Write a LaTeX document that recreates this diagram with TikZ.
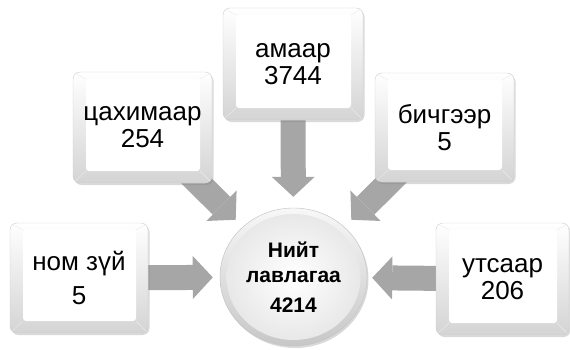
\documentclass[tikz,border=0pt]{standalone}
\usepackage{fontspec}
\setmainfont{Liberation Sans}
\usepackage{tikz}
\usetikzlibrary{arrows.meta, shapes.geometric, shadows, backgrounds}
\definecolor{arrowgray}{RGB}{166,166,166}
\definecolor{bevelgray}{RGB}{212,212,212}

\begin{document}
\begin{tikzpicture}[x=1pt, y=1pt,
	keybox/.style={rectangle, rounded corners=7pt, minimum width=139pt, minimum height=111pt,
		draw=black!20, fill=white, align=center, font=\fontsize{26}{27}\selectfont,
		drop shadow={shadow xshift=1.5pt, shadow yshift=-2pt, opacity=0.3},
		path picture={
			\path (path picture bounding box.south west) coordinate (sw)
				(path picture bounding box.north east) coordinate (ne);
			\shade[top color=white, bottom color=bevelgray] (sw) rectangle (ne);
			\draw[black!8] (sw) -- ++(13,12) (ne) -- ++(-12,-7) (sw |- ne) -- ++(13,-7) (ne |- sw) -- ++(-12,12);
			\fill[white, rounded corners=3pt] ([shift={(13,12)}]sw) rectangle ([shift={(-12,-7)}]ne);
		}},
	totalnode/.style={ellipse, minimum width=147pt, minimum height=138pt, inner sep=0pt,
		draw=black!25, fill=white, align=center, font=\bfseries\fontsize{21}{25}\selectfont,
		drop shadow={shadow xshift=1.5pt, shadow yshift=-2pt, opacity=0.3},
		path picture={
			\shade[top color=black!3, bottom color=black!22] (path picture bounding box.south west) rectangle (path picture bounding box.north east);
			\shade[inner color=white, outer color=black!9] (path picture bounding box.center) ellipse (67 and 63);
		}},
	blockarrow/.style={draw=arrowgray, line width=25pt,
		-{Triangle[length=20pt 0 1, width=43pt 0 1, line width=0pt 0 0]}}]
	\useasboundingbox (0,0) rectangle (570,349);
	%\draw[step=10pt, color=gray!30] (0,0) grid (570,349);

	\node[totalnode] (total) at (293.5,72) {Нийт\\лавлагаа\\[5pt]4214};

	\node[keybox, minimum width=138pt, minimum height=110pt] (nomzui) at (79,71) {ном зүй\\[7pt]5};
	\node[keybox] (cax) at (142.5,221.5) {цахимаар\\254};
	\node[keybox, minimum width=140pt, minimum height=112pt] (amaar) at (293,285) {амаар\\3744};
	\node[keybox, minimum height=109pt] (bich) at (444.5,221.5) {бичгээр\\5};
	\node[keybox, minimum width=133pt, minimum height=112pt] (utsaar) at (502.5,70) {утсаар\\206};

	% arrows go under the boxes
	\begin{scope}[on background layer]
		\draw[blockarrow, shorten >=7pt] (nomzui.center) -- (total);
		\draw[blockarrow, shorten >=5pt] (utsaar.center) -- (total);
		\draw[blockarrow, shorten >=11pt] (amaar.center) -- (total);
		\draw[blockarrow, shorten >=10pt] (cax.center) -- (total);
		\draw[blockarrow, shorten >=10pt] (bich.center) -- (total);
	\end{scope}
\end{tikzpicture}
\end{document}
